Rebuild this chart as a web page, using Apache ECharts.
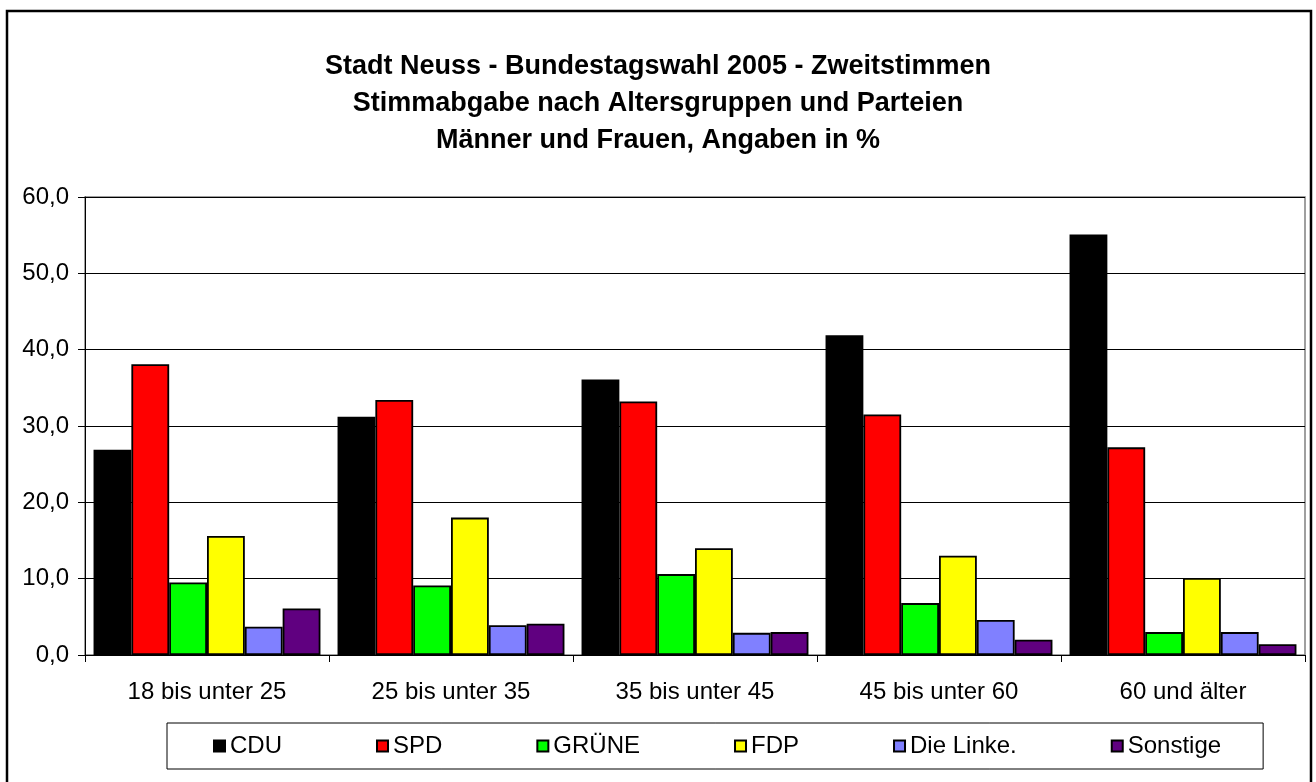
<!DOCTYPE html>
<html>
<head>
<meta charset="utf-8">
<title>Stadt Neuss - Bundestagswahl 2005</title>
<script src="https://cdn.jsdelivr.net/npm/echarts@6/dist/echarts.min.js"></script>
<style>
  html, body { margin: 0; padding: 0; background: #fff; }
  #chart { width: 1316px; height: 782px; }
</style>
</head>
<body>
<div id="chart"></div>
<script>
// age groups on the x axis
const ageGroups = ["18 bis unter 25", "25 bis unter 35", "35 bis unter 45", "45 bis unter 60", "60 und älter"];

// second-vote share per party, in %
const cdu = [26.9, 31.2, 36.1, 41.9, 55.1];
const spd = [38.1, 33.4, 33.2, 31.5, 27.2];
const gruene = [9.5, 9.1, 10.6, 6.8, 3.0];
const fdp = [15.6, 18.0, 14.0, 13.0, 10.1];
const linke = [3.7, 3.9, 2.9, 4.6, 3.0];
const sonstige = [6.1, 4.1, 3.0, 2.0, 1.4];

const parties = ["CDU", "SPD", "GRÜNE", "FDP", "Die Linke.", "Sonstige"];
const partyValues = [cdu, spd, gruene, fdp, linke, sonstige];
const partyColors = ["#000000", "#ff0000", "#00ff00", "#ffff00", "#8080ff", "#600080"];

const FONT = "'Liberation Sans', Arial, sans-serif";

const chart = echarts.init(document.getElementById("chart"), null, { renderer: "canvas" });

const series = parties.map((name, i) => ({
  name,
  type: "bar",
  data: partyValues[i],
  barGap: "0%",
  barCategoryGap: "7%",
  itemStyle: {
    color: partyColors[i],
    borderColor: "#000",
    borderWidth: 1.8
  }
}));

chart.setOption({
  backgroundColor: "#fff",
  animation: false,
  textStyle: { fontFamily: FONT },
  title: {
    text: "Stadt Neuss - Bundestagswahl 2005 - Zweitstimmen\nStimmabgabe nach Altersgruppen und Parteien\nMänner und Frauen, Angaben in %",
    left: "center",
    top: 43,
    textStyle: {
      fontFamily: FONT,
      fontSize: 27,
      fontWeight: "bold",
      lineHeight: 37,
      color: "#000"
    }
  },
  graphic: [
    {
      // outer chart frame
      type: "rect",
      shape: { x: 7, y: 11, width: 1304, height: 790 },
      style: { fill: null, stroke: "#000", lineWidth: 2.5 },
      silent: true
    }
  ],
  legend: {
    data: parties,
    left: 167,
    top: 723,
    padding: [11, 42, 11, 46],
    itemGap: 94,
    itemWidth: 11,
    itemHeight: 11,
    borderColor: "#000",
    borderWidth: 1,
    icon: "rect",
    textStyle: { fontFamily: FONT, fontSize: 24, color: "#000" }
  },
  grid: {
    left: 85,
    right: 11,
    top: 197,
    bottom: 127,
    show: true,
    borderColor: "#808080",
    borderWidth: 1.5,
    containLabel: false
  },
  xAxis: {
    type: "category",
    data: ageGroups,
    axisLine: { lineStyle: { color: "#000", width: 1 } },
    axisTick: { show: true, length: 7, lineStyle: { color: "#000" } },
    axisLabel: { fontFamily: FONT, fontSize: 24, color: "#000", margin: 25 }
  },
  yAxis: {
    type: "value",
    min: 0,
    max: 60,
    interval: 10,
    axisLine: { show: true, lineStyle: { color: "#000", width: 1 } },
    axisTick: { show: true, length: 7, lineStyle: { color: "#000" } },
    axisLabel: {
      fontFamily: FONT,
      fontSize: 24,
      color: "#000",
      margin: 16,
      formatter: v => v.toFixed(1).replace(".", ",")
    },
    splitLine: { show: true, lineStyle: { color: "#000", width: 1 } }
  },
  series
});
</script>
</body>
</html>
